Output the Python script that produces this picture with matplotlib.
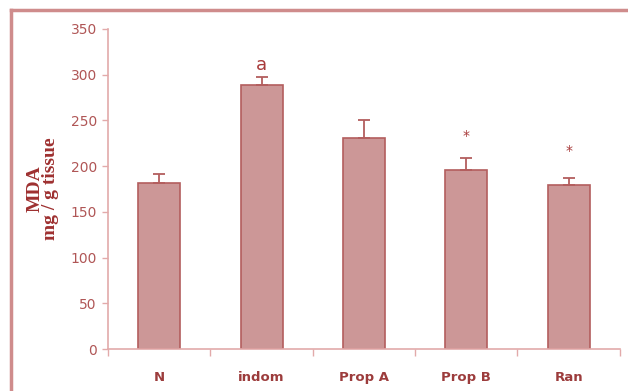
import matplotlib
matplotlib.use("Agg")
import matplotlib.pyplot as plt
from matplotlib.lines import Line2D

categories = ["N", "indom", "Prop A", "Prop B", "Ran"]
values = [182, 289, 231, 196, 179]
errors = [9, 9, 19, 13, 8]
marks = ["", "a", "", "*", "*"]
mark_y = [None, 311, None, 233, 217]
yticks = [0, 50, 100, 150, 200, 250, 300, 350]

fig = plt.figure(figsize=(6.28, 3.91), dpi=100)
ax = fig.add_axes([0.172, 0.107, 0.815, 0.819])

bar_face = "#cc9797"
bar_edge = "#b35e5e"
axis_col = "#e2aaaa"
text_col = "#b05656"

x = list(range(len(categories)))
ax.bar(x, values, width=0.41, color=bar_face, edgecolor=bar_edge, linewidth=1.2, zorder=2)
ax.errorbar(x, values, yerr=[[0]*len(values), errors], fmt="none", ecolor=bar_edge,
            elinewidth=1.3, capsize=4, capthick=1.3, zorder=3)

for xi, m, my in zip(x, marks, mark_y):
    if m:
        ax.text(xi, my, m, ha="center", va="center", color="#a83a3a",
                fontsize=13 if m == "a" else 10)

ax.set_xlim(-0.5, len(categories) - 0.5)
ax.set_ylim(0, 350)
ax.set_yticks(yticks)
ax.set_yticklabels([str(t) for t in yticks], color=text_col, fontsize=10)
ax.set_xticks([i - 0.5 for i in range(len(categories) + 1)])
ax.set_xticklabels([])
ax.set_xticks(x, minor=True)
ax.set_xticklabels(categories, minor=True, fontsize=9.5, fontweight="bold", color="#9c3c3c")
ax.tick_params(axis="x", which="minor", length=0, pad=16)
ax.tick_params(axis="x", which="major", length=5, color=axis_col, width=1)
ax.tick_params(axis="y", length=4, color=axis_col, width=1, pad=4)

for s in ["top", "right"]:
    ax.spines[s].set_visible(False)
for s in ["left", "bottom"]:
    ax.spines[s].set_color(axis_col)
    ax.spines[s].set_linewidth(1.2)

ax.set_ylabel("MDA\nmg / g tissue", family="Liberation Serif", fontweight="bold",
              fontsize=14, color="#9e3030", linespacing=0.9, labelpad=8)

frame_col = "#cf8c8c"
fig.add_artist(Line2D([11/628, 1.0], [1 - 10/391, 1 - 10/391], transform=fig.transFigure,
                      color=frame_col, linewidth=2.5))
fig.add_artist(Line2D([11/628, 11/628], [0, 1 - 10/391], transform=fig.transFigure,
                      color=frame_col, linewidth=2.5))

fig.savefig("out.png", dpi=100)
